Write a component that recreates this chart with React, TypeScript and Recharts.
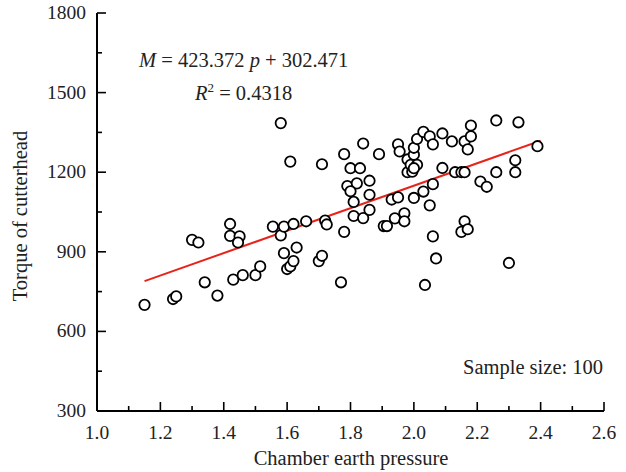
import { ScatterChart, Scatter, XAxis, YAxis } from 'recharts'

// chamber earth pressure readings (x)
const PRESSURE = [
  1.15, 1.24, 1.25, 1.3, 1.32, 1.34, 1.38, 1.42, 1.42, 1.45,
  1.445, 1.43, 1.46, 1.5, 1.515, 1.555, 1.58, 1.58, 1.59, 1.61,
  1.62, 1.59, 1.6, 1.61, 1.62, 1.63, 1.66, 1.7, 1.71, 1.71,
  1.72, 1.725, 1.77, 1.78, 1.78, 1.8, 1.83, 1.79, 1.82, 1.8,
  1.81, 1.81, 1.84, 1.84, 1.86, 1.86, 1.86, 1.89, 1.905, 1.915,
  1.94, 1.93, 1.95, 1.97, 1.97, 1.95, 1.955, 1.98, 1.98, 1.995,
  1.99, 2.0, 2.0, 2.01, 2.01, 2.0, 2.03, 2.05, 2.03, 2.06,
  2.05, 2.06, 2.06, 2.07, 2.035, 2.09, 2.09, 2.12, 2.13, 2.15,
  2.16, 2.16, 2.17, 2.18, 2.18, 2.16, 2.15, 2.17, 2.21, 2.23,
  2.26, 2.26, 2.3, 2.32, 2.32, 2.33, 2.39, 2.0,
]

// torque of cutterhead readings (y)
const TORQUE = [
  700, 722, 732, 945, 935, 785, 735, 1005, 960, 958,
  935, 795, 812, 812, 845, 995, 1385, 962, 995, 1240,
  1005, 895, 835, 845, 865, 916, 1015, 865, 885, 1230,
  1018, 1003, 785, 975, 1268, 1215, 1215, 1148, 1158, 1128,
  1088, 1035, 1308, 1027, 1168, 1115, 1058, 1268, 997, 997,
  1026, 1097, 1105, 1045, 1015, 1305, 1278, 1248, 1200, 1202,
  1228, 1266, 1292, 1228, 1325, 1103, 1352, 1335, 1127, 1305,
  1075, 1155, 958, 875, 775, 1346, 1216, 1316, 1200, 1200,
  1200, 1316, 1286, 1335, 1376, 1015, 975, 985, 1165, 1145,
  1200, 1395, 858, 1245, 1200, 1388, 1298, 1215,
]

// fitted line M = 423.372 p + 302.471 over the sample range
const SLOPE = 423.372
const INTERCEPT = 302.471
const FIT_RANGE = [1.15, 2.4]

const X_TICKS = [1.0, 1.1, 1.2, 1.3, 1.4, 1.5, 1.6, 1.7, 1.8, 1.9, 2.0, 2.1, 2.2, 2.3, 2.4, 2.5, 2.6]
const Y_TICKS = [300, 450, 600, 750, 900, 1050, 1200, 1350, 1500, 1650, 1800]

const FONT = '"Liberation Serif", "Times New Roman", serif'
const TEXT = '#222'

const points = PRESSURE.map((p, i) => ({ p, m: TORQUE[i] }))
const fit = FIT_RANGE.map((p) => ({ p, m: SLOPE * p + INTERCEPT }))

function XTick(props: any) {
  const { x, y, payload } = props
  const v: number = payload.value
  const major = Math.round(v * 10) % 2 === 0
  return (
    <g>
      <line x1={x} x2={x} y1={y} y2={y - (major ? 9 : 5)} stroke="#000" strokeWidth={1.6} />
      {major && (
        <text x={x} y={y + 28} textAnchor="middle" fontFamily={FONT} fontSize={19.5} fill={TEXT}>
          {v.toFixed(1)}
        </text>
      )}
    </g>
  )
}

function YTick(props: any) {
  const { x, y, payload } = props
  const v: number = payload.value
  const major = v % 300 === 0
  return (
    <g>
      <line x1={x} x2={x + (major ? 9 : 5)} y1={y} y2={y} stroke="#000" strokeWidth={1.6} />
      {major && (
        <text x={x - 11} y={y + 6} textAnchor="end" fontFamily={FONT} fontSize={19.5} fill={TEXT}>
          {v}
        </text>
      )}
    </g>
  )
}

function Ring(props: any) {
  return <circle cx={props.cx} cy={props.cy} r={5.2} fill="#fff" stroke="#000" strokeWidth={1.8} />
}

export default function App() {
  return (
    <div style={{ position: 'absolute', left: 0, top: 0, width: 626, height: 472, background: '#fff' }}>
      <ScatterChart width={626} height={472} margin={{ top: 13, right: 22, bottom: 0, left: 0 }}>
        <XAxis
          type="number"
          dataKey="p"
          domain={[1.0, 2.6]}
          ticks={X_TICKS}
          interval={0}
          height={61}
          tickSize={0}
          tickMargin={0}
          tick={<XTick />}
          axisLine={{ stroke: '#000', strokeWidth: 2 }}
        />
        <YAxis
          type="number"
          dataKey="m"
          domain={[300, 1800]}
          ticks={Y_TICKS}
          interval={0}
          width={97}
          tickSize={0}
          tickMargin={0}
          tick={<YTick />}
          axisLine={{ stroke: '#000', strokeWidth: 2 }}
        />
        <Scatter
          data={fit}
          line={{ stroke: '#e8231b', strokeWidth: 2 }}
          shape={() => <g />}
          isAnimationActive={false}
        />
        <Scatter data={points} shape={<Ring />} isAnimationActive={false} />
      </ScatterChart>
      <svg
        width={626}
        height={472}
        style={{ position: 'absolute', left: 0, top: 0, pointerEvents: 'none' }}
      >
        <g fontFamily={FONT} fontSize={20.5} fill={TEXT}>
          <text x={139} y={67}>
            <tspan fontStyle="italic">M</tspan> = 423.372 <tspan fontStyle="italic">p</tspan> + 302.471
          </text>
          <text x={195} y={100}>
            <tspan fontStyle="italic">R</tspan>
            <tspan fontSize={13} dy={-8}>2</tspan>
            <tspan dy={8}> = 0.4318</tspan>
          </text>
          <text x={463} y={374}>Sample size: 100</text>
          <text x={351} y={465} textAnchor="middle">Chamber earth pressure</text>
          <text x={27} y={216} textAnchor="middle" transform="rotate(-90 27 216)">
            Torque of cutterhead
          </text>
        </g>
      </svg>
    </div>
  )
}
